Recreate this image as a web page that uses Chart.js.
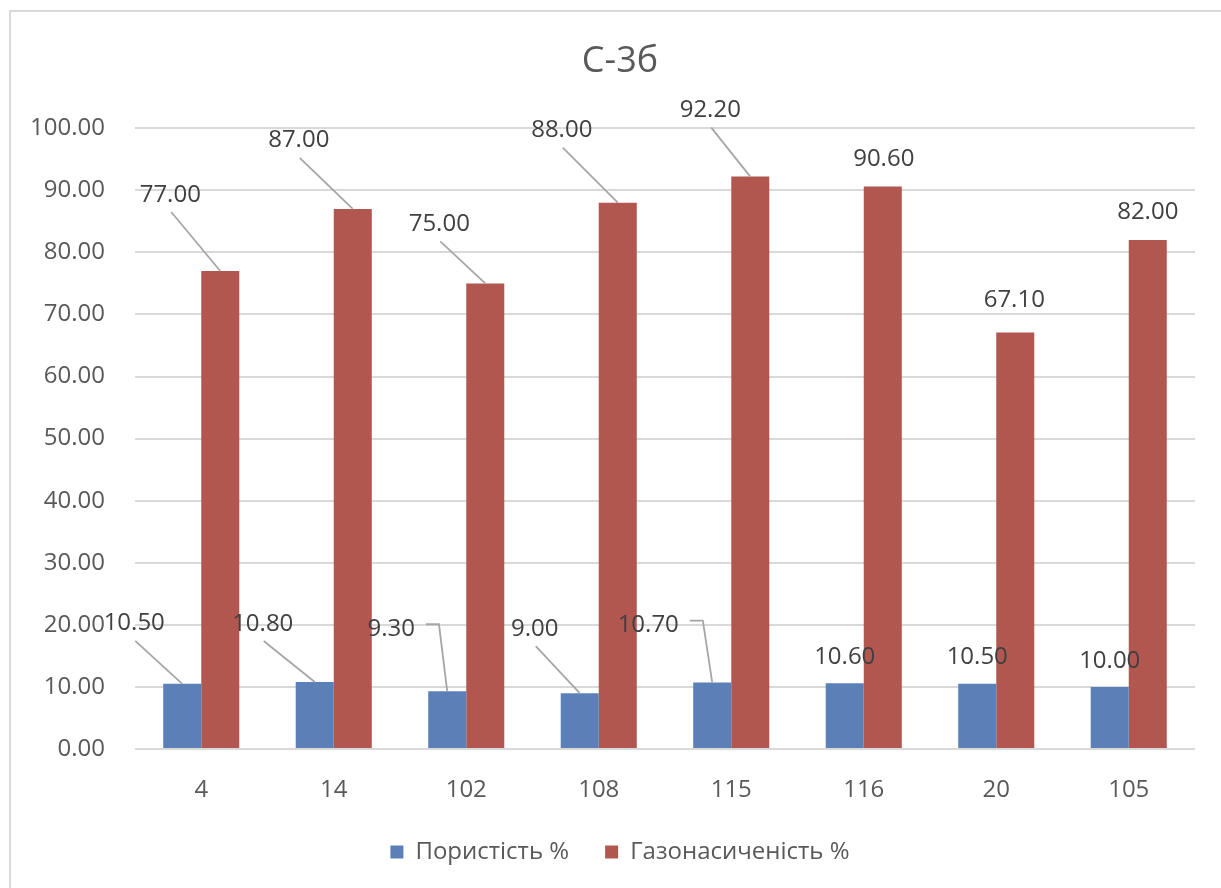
<!DOCTYPE html>
<html>
<head>
<meta charset="utf-8">
<script src="https://cdn.jsdelivr.net/npm/chart.js@4.4.1/dist/chart.umd.min.js"></script>
<style>
  html, body { margin: 0; padding: 0; background: #ffffff; overflow: hidden; }
  #wrap { width: 1221px; height: 888px; position: relative; }
</style>
</head>
<body>
<div id="wrap"><canvas id="c" width="1221" height="888"></canvas></div>
<script>
// Well numbers and measured values
const wells = ['4', '14', '102', '108', '115', '116', '20', '105'];
const porosity = [10.50, 10.80, 9.30, 9.00, 10.70, 10.60, 10.50, 10.00];
const gasSaturation = [77.00, 87.00, 75.00, 88.00, 92.20, 90.60, 67.10, 82.00];
const yTickValues = [0, 10, 20, 30, 40, 50, 60, 70, 80, 90, 100];

const seriesNames = ['Пористість %', 'Газонасиченість %'];
const seriesColors = ['#5b80b8', '#b25650'];

// Value-label placement relative to the top centre of each bar (px),
// with the style of leader line connecting label and bar.
const labelPlacement = [
  [
    { dx: -48, dy: -62, leader: 'line' },
    { dx: -52, dy: -60, leader: 'line' },
    { dx: -56, dy: -64, leader: 'elbow' },
    { dx: -45, dy: -66, leader: 'line' },
    { dx: -64, dy: -59, leader: 'elbow' },
    { dx: 0, dy: -28, leader: 'none' },
    { dx: 0, dy: -28, leader: 'none' },
    { dx: 0, dy: -27, leader: 'none' }
  ],
  [
    { dx: -50, dy: -78, leader: 'line' },
    { dx: -54, dy: -70, leader: 'line' },
    { dx: -46, dy: -61, leader: 'line' },
    { dx: -56, dy: -74, leader: 'line' },
    { dx: -40, dy: -68, leader: 'line' },
    { dx: 1, dy: -29, leader: 'none' },
    { dx: -1, dy: -34, leader: 'none' },
    { dx: 0, dy: -30, leader: 'none' }
  ]
];

const FONT = '"Open Sans", "Liberation Sans", sans-serif';

// Light frame around the chart area
const frame = {
  id: 'frame',
  beforeDraw(chart) {
    const ctx = chart.ctx;
    ctx.save();
    ctx.fillStyle = '#ffffff';
    ctx.fillRect(0, 0, chart.width, chart.height);
    ctx.strokeStyle = '#d9d9d9';
    ctx.lineWidth = 2;
    ctx.beginPath();
    ctx.moveTo(10, chart.height + 2);
    ctx.lineTo(10, 11);
    ctx.lineTo(chart.width + 2, 11);
    ctx.stroke();
    ctx.restore();
  }
};

// Data labels with leader lines
const valueLabels = {
  id: 'valueLabels',
  afterDatasetsDraw(chart) {
    const ctx = chart.ctx;
    const size = 24;
    ctx.save();
    ctx.font = size + 'px ' + FONT;
    ctx.textAlign = 'center';
    ctx.textBaseline = 'alphabetic';
    chart.data.datasets.forEach((ds, i) => {
      const meta = chart.getDatasetMeta(i);
      meta.data.forEach((bar, j) => {
        const text = ds.data[j].toFixed(2);
        const p = labelPlacement[i][j];
        const lx = bar.x + p.dx;
        const ly = bar.y + p.dy;
        ctx.strokeStyle = '#a6a6a6';
        ctx.lineWidth = 1.8;
        if (p.leader === 'line') {
          ctx.beginPath();
          ctx.moveTo(lx + 1, ly + 19);
          ctx.lineTo(bar.x, bar.y);
          ctx.stroke();
        } else if (p.leader === 'elbow') {
          const w = ctx.measureText(text).width;
          const sx = lx + w / 2 + 11;
          ctx.beginPath();
          ctx.moveTo(sx, ly - 3);
          ctx.lineTo(sx + 13, ly - 3);
          ctx.lineTo(bar.x, bar.y);
          ctx.stroke();
        }
        ctx.fillStyle = '#404040';
        ctx.fillText(text, lx, ly + size * 0.357);
      });
    });
    ctx.restore();
  }
};

new Chart(document.getElementById('c'), {
  type: 'bar',
  data: {
    labels: wells,
    datasets: [
      { label: seriesNames[0], data: porosity, backgroundColor: seriesColors[0] },
      { label: seriesNames[1], data: gasSaturation, backgroundColor: seriesColors[1] }
    ]
  },
  options: {
    responsive: false,
    devicePixelRatio: 1,
    animation: false,
    categoryPercentage: 0.574,
    barPercentage: 1,
    layout: { padding: { left: 19, right: 0, top: 0, bottom: 14 } },
    plugins: {
      title: {
        display: true,
        text: 'С-3б',
        color: '#595959',
        font: { family: FONT, size: 36, weight: 'normal' },
        padding: { top: 40, bottom: 45 }
      },
      legend: {
        position: 'bottom',
        labels: {
          color: '#595959',
          font: { family: FONT, size: 24 },
          boxWidth: 13,
          boxHeight: 13,
          padding: 36
        }
      },
      tooltip: { enabled: false }
    },
    scales: {
      x: {
        grid: { display: false },
        border: { display: false },
        ticks: { color: '#595959', font: { family: FONT, size: 24 }, padding: 19 },
        afterFit(scale) { scale.height = 55; }
      },
      y: {
        min: 0,
        max: 100,
        afterBuildTicks(scale) { scale.ticks = yTickValues.map(v => ({ value: v })); },
        grid: { color: '#d9d9d9', lineWidth: 2, drawTicks: false },
        border: { display: false },
        ticks: {
          color: '#595959',
          font: { family: FONT, size: 24 },
          padding: 30,
          callback: v => Number(v).toFixed(2)
        },
        afterFit(scale) { scale.width = 116; }
      },
      // empty right-hand margin of the plot area
      yRight: {
        position: 'right',
        display: true,
        grid: { display: false },
        border: { display: false },
        ticks: { display: false },
        afterFit(scale) { scale.width = 26; }
      }
    }
  },
  plugins: [frame, valueLabels]
});
</script>
</body>
</html>
